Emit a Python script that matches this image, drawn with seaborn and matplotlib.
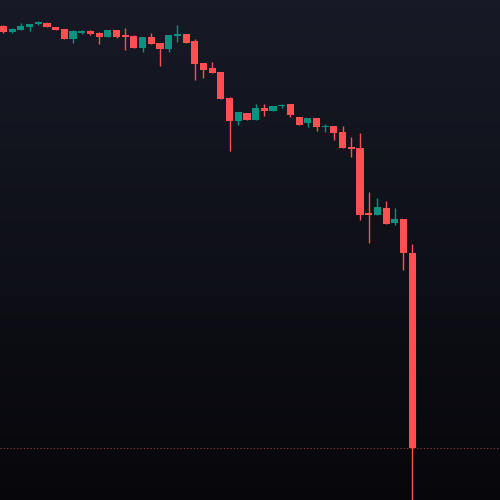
import numpy as np
import seaborn as sns
import matplotlib.pyplot as plt
from matplotlib.colors import LinearSegmentedColormap

# OHLC (48 candles)
opens = [4.74, 4.68, 4.70, 4.73, 4.765, 4.77, 4.73, 4.71, 4.61, 4.675, 4.69, 4.67,
         4.63, 4.70, 4.645, 4.64, 4.52, 4.63, 4.57, 4.51, 4.645, 4.66, 4.59, 4.37,
         4.32, 4.28, 4.02, 3.79, 3.87, 3.80, 3.92, 3.89, 3.94, 3.96, 3.83, 3.77,
         3.82, 3.73, 3.74, 3.68, 3.53, 3.52, 2.865, 2.85, 2.92, 2.77, 2.81, 2.47]
closes = [4.68, 4.71, 4.74, 4.76, 4.775, 4.73, 4.705, 4.61, 4.69, 4.685, 4.665, 4.63,
          4.70, 4.63, 4.635, 4.52, 4.63, 4.56, 4.51, 4.65, 4.655, 4.57, 4.36, 4.30,
          4.27, 4.01, 3.79, 3.88, 3.80, 3.92, 3.89, 3.94, 3.95, 3.85, 3.75, 3.82,
          3.73, 3.74, 3.67, 3.52, 3.51, 2.85, 2.855, 2.93, 2.76, 2.81, 2.47, 0.52]
highs = [4.75, 4.72, 4.77, 4.76, 4.79, 4.78, 4.73, 4.71, 4.70, 4.70, 4.70, 4.68,
         4.70, 4.70, 4.72, 4.65, 4.63, 4.67, 4.57, 4.65, 4.75, 4.66, 4.61, 4.37,
         4.38, 4.28, 4.03, 3.88, 3.87, 3.96, 3.96, 3.94, 3.96, 3.96, 3.83, 3.82,
         3.82, 3.76, 3.74, 3.74, 3.63, 3.67, 3.08, 3.02, 2.99, 2.92, 2.81, 2.56]
lows = [4.67, 4.67, 4.70, 4.69, 4.75, 4.73, 4.70, 4.61, 4.57, 4.66, 4.65, 4.56,
        4.63, 4.62, 4.50, 4.52, 4.48, 4.56, 4.34, 4.48, 4.58, 4.57, 4.20, 4.22,
        4.27, 4.01, 3.49, 3.75, 3.80, 3.80, 3.84, 3.89, 3.92, 3.83, 3.75, 3.73,
        3.69, 3.68, 3.60, 3.52, 3.43, 2.80, 2.57, 2.85, 2.76, 2.75, 2.30, -0.20]

UP = '#0b9180'
DOWN = '#ff4f52'

sns.set_theme(style='dark')

fig = plt.figure(figsize=(5, 5), dpi=100)
ax = fig.add_axes([0, 0, 1, 1])

x = np.arange(len(opens))
o = np.array(opens)
c = np.array(closes)
colors = [UP if cc >= oo else DOWN for oo, cc in zip(opens, closes)]

xmin, xmax = -0.4, 57.1
ymin, ymax = 0.0, 5.0

# background gradient (dark navy at top fading to near black)
bg = LinearSegmentedColormap.from_list('bg', ['#07070b', '#171a26'])
grad = np.linspace(0, 1, 256).reshape(-1, 1)
ax.imshow(grad, extent=[xmin, xmax, ymin, ymax], aspect='auto', origin='lower',
          cmap=bg, zorder=0)

# wicks
ax.vlines(x, lows, highs, colors=colors, linewidth=1.0, zorder=2)

# bodies
body = np.abs(c - o)
body = np.maximum(body, 0.012)
bottom = np.minimum(o, c)
ax.bar(x, body, bottom=bottom, width=0.82, color=colors, linewidth=0, zorder=3)

# last price line
ax.axhline(closes[-1], color='#c0504d', linewidth=0.8, linestyle=(0, (1, 2)),
           alpha=0.8, zorder=1)

ax.set_xlim(xmin, xmax)
ax.set_ylim(ymin, ymax)
ax.axis('off')

plt.savefig('out.png', dpi=100)
